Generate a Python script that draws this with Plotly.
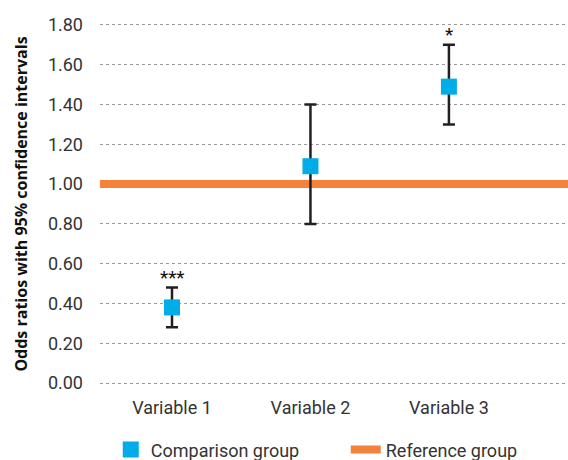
import plotly.graph_objects as go

categories = ["Variable 1", "Variable 2", "Variable 3"]
odds_ratios = [0.38, 1.09, 1.49]
ci_lower = [0.28, 0.80, 1.30]
ci_upper = [0.48, 1.40, 1.70]
significance = ["***", "", "*"]
reference_value = 1.0
y_ticks = [0.0, 0.2, 0.4, 0.6, 0.8, 1.0, 1.2, 1.4, 1.6, 1.8]
y_tick_labels = ["0.00", "0.20", "0.40", "0.60", "0.80", "1.00", "1.20", "1.40", "1.60", "1.80"]

x_pos = list(range(len(categories)))
x_range = [-0.52, 2.86]

err_plus = [u - v for u, v in zip(ci_upper, odds_ratios)]
err_minus = [v - l for v, l in zip(odds_ratios, ci_lower)]

FONT = "Roboto"
BLUE = "#00ADE6"
ORANGE = "#F5823A"
DARK = "#231F20"
TXT = "#333333"

fig = go.Figure()

fig.add_trace(go.Scatter(
    x=x_range, y=[reference_value, reference_value],
    mode="lines", line=dict(color=ORANGE, width=8),
    name="Reference group", legendrank=2, hoverinfo="skip",
))

fig.add_trace(go.Scatter(
    x=x_pos, y=odds_ratios, mode="markers",
    marker=dict(symbol="square", size=16, color=BLUE),
    error_y=dict(type="data", symmetric=False, array=err_plus, arrayminus=err_minus,
                 color=DARK, thickness=2.5, width=6),
    name="Comparison group", legendrank=1,
))

for xp, up, s in zip(x_pos, ci_upper, significance):
    if s:
        fig.add_annotation(x=xp, y=up, text=s, showarrow=False, yanchor="bottom",
                           yshift=-3, font=dict(family=FONT, size=19, color="#111"))

fig.update_layout(
    width=568, height=460,
    margin=dict(l=100, r=0, t=21, b=73),
    paper_bgcolor="white", plot_bgcolor="white",
    font=dict(family=FONT, size=18, color=TXT),
    showlegend=True,
    legend=dict(orientation="h", xref="container", yref="container",
                x=0.195, xanchor="left", y=0.022, yanchor="middle",
                font=dict(family=FONT, size=18, color=TXT),
                entrywidth=190, entrywidthmode="pixels", tracegroupgap=0),
)

fig.update_xaxes(
    range=x_range, tickmode="array", tickvals=x_pos, ticktext=categories,
    showgrid=False, zeroline=False, showline=False, ticks="",
    ticklabelstandoff=8,
    tickfont=dict(family=FONT, size=18, color=TXT),
)
fig.update_yaxes(
    range=[-0.02, 1.82], tickmode="array", tickvals=y_ticks, ticktext=y_tick_labels,
    showgrid=True, gridcolor="#9a9a9a", griddash="dot", gridwidth=1,
    zeroline=False, showline=False, ticks="",
    ticklabelstandoff=16,
    tickfont=dict(family=FONT, size=18, color=TXT),
    title=dict(text="<b>Odds ratios with 95% confidence intervals</b>",
               font=dict(family="Open Sans", size=16, color="#111111"), standoff=16),
)

fig.write_html("out.html")
